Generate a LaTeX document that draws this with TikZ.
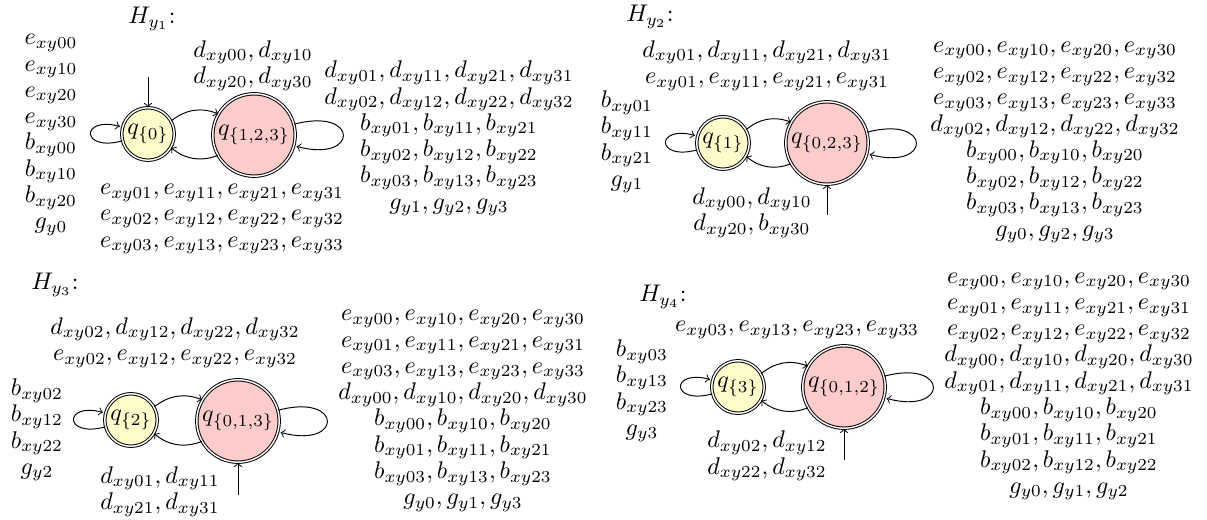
\documentclass[tikz,border=0pt]{standalone}
\usetikzlibrary{automata}
\begin{document}
\begin{tikzpicture}[x=0.415pt,y=-0.415pt,
  every node/.style={font=\fontsize{10}{10.9}\selectfont},
  lbl/.style={align=center,inner sep=0pt},
  ttl/.style={inner sep=0pt},
  state/.style={circle,draw,double,inner sep=0pt},
  smallst/.style={state,fill=yellow!20,minimum size=21.8pt},
  bigst/.style={state,fill=red!20,minimum size=34.2pt}]
\useasboundingbox (0,0) rectangle (1207,520);

% ---------- H_{y1} ----------
\node[ttl] (t1) at (152,19) {$H_{y_1}$:};
\node[smallst] (s1) at (148,134) {$q_{\{0\}}$};
\node[bigst] (b1) at (254,135) {$q_{\{1,2,3\}}$};
\coordinate (i1) at (148,77);
\draw[->] (i1) -- (s1);
\path[->] (s1) edge[loop left] (s1)
          (b1) edge[loop right] (b1)
          (s1) edge[bend left] (b1)
          (b1) edge[bend left] (s1);
\node[lbl] (l1) at (51,135) {$e_{xy00}$\\$e_{xy10}$\\$e_{xy20}$\\$e_{xy30}$\\$b_{xy00}$\\$b_{xy10}$\\$b_{xy20}$\\$g_{y0}$};
\node[lbl] (u1) at (253,65.5) {$d_{xy00},d_{xy10}$\\$d_{xy20},d_{xy30}$};
\node[lbl] (d1) at (222,219) {$e_{xy01},e_{xy11},e_{xy21},e_{xy31}$\\$e_{xy02},e_{xy12},e_{xy22},e_{xy32}$\\$e_{xy03},e_{xy13},e_{xy23},e_{xy33}$};
\node[lbl] (r1) at (449,138.5) {$d_{xy01},d_{xy11},d_{xy21},d_{xy31}$\\$d_{xy02},d_{xy12},d_{xy22},d_{xy32}$\\$b_{xy01},b_{xy11},b_{xy21}$\\$b_{xy02},b_{xy12},b_{xy22}$\\$b_{xy03},b_{xy13},b_{xy23}$\\$g_{y1},g_{y2},g_{y3}$};

% ---------- H_{y2} ----------
\node[ttl] (t2) at (650,17) {$H_{y_2}$:};
\node[smallst] (s2) at (723,143) {$q_{\{1\}}$};
\node[bigst] (b2) at (827,143) {$q_{\{0,2,3\}}$};
\coordinate (i2) at (827,215);
\draw[->] (i2) -- (b2);
\path[->] (s2) edge[loop left] (s2)
          (b2) edge[loop right] (b2)
          (s2) edge[bend left] (b2)
          (b2) edge[bend left] (s2);
\node[lbl] (l2) at (627,142) {$b_{xy01}$\\$b_{xy11}$\\$b_{xy21}$\\$g_{y1}$};
\node[lbl] (u2) at (767,65.5) {$d_{xy01},d_{xy11},d_{xy21},d_{xy31}$\\$e_{xy01},e_{xy11},e_{xy21},e_{xy31}$};
\node[lbl] (d2) at (752,212.5) {$d_{xy00},d_{xy10}$\\$d_{xy20},b_{xy30}$};
\node[lbl] (r2) at (1055,142.5) {$e_{xy00},e_{xy10},e_{xy20},e_{xy30}$\\$e_{xy02},e_{xy12},e_{xy22},e_{xy32}$\\$e_{xy03},e_{xy13},e_{xy23},e_{xy33}$\\$d_{xy02},d_{xy12},d_{xy22},d_{xy32}$\\$b_{xy00},b_{xy10},b_{xy20}$\\$b_{xy02},b_{xy12},b_{xy22}$\\$b_{xy03},b_{xy13},b_{xy23}$\\$g_{y0},g_{y2},g_{y3}$};

% ---------- H_{y3} ----------
\node[ttl] (t3) at (55,285) {$H_{y_3}$:};
\node[smallst] (s3) at (131,420) {$q_{\{2\}}$};
\node[bigst] (b3) at (238,421) {$q_{\{0,1,3\}}$};
\coordinate (i3) at (238,495);
\draw[->] (i3) -- (b3);
\path[->] (s3) edge[loop left] (s3)
          (b3) edge[loop right] (b3)
          (s3) edge[bend left] (b3)
          (b3) edge[bend left] (s3);
\node[lbl] (l3) at (37,430) {$b_{xy02}$\\$b_{xy12}$\\$b_{xy22}$\\$g_{y2}$};
\node[lbl] (u3) at (175,342.5) {$d_{xy02},d_{xy12},d_{xy22},d_{xy32}$\\$e_{xy02},e_{xy12},e_{xy22},e_{xy32}$};
\node[lbl] (d3) at (160,491.5) {$d_{xy01},d_{xy11}$\\$d_{xy21},d_{xy31}$};
\node[lbl] (r3) at (463,411) {$e_{xy00},e_{xy10},e_{xy20},e_{xy30}$\\$e_{xy01},e_{xy11},e_{xy21},e_{xy31}$\\$e_{xy03},e_{xy13},e_{xy23},e_{xy33}$\\$d_{xy00},d_{xy10},d_{xy20},d_{xy30}$\\$b_{xy00},b_{xy10},b_{xy20}$\\$b_{xy01},b_{xy11},b_{xy21}$\\$b_{xy03},b_{xy13},b_{xy23}$\\$g_{y0},g_{y1},g_{y3}$};

% ---------- H_{y4} ----------
\node[ttl] (t4) at (663,297) {$H_{y_4}$:};
\node[smallst] (s4) at (738,387) {$q_{\{3\}}$};
\node[bigst] (b4) at (844,387) {$q_{\{0,1,2\}}$};
\coordinate (i4) at (844,460);
\draw[->] (i4) -- (b4);
\path[->] (s4) edge[loop left] (s4)
          (b4) edge[loop right] (b4)
          (s4) edge[bend left] (b4)
          (b4) edge[bend left] (s4);
\node[lbl] (l4) at (642,391) {$b_{xy03}$\\$b_{xy13}$\\$b_{xy23}$\\$g_{y3}$};
\node[lbl] (u4) at (797,330) {$e_{xy03},e_{xy13},e_{xy23},e_{xy33}$};
\node[lbl] (d4) at (767,456) {$d_{xy02},d_{xy12}$\\$d_{xy22},d_{xy32}$};
\node[lbl] (r4) at (1069,386.5) {$e_{xy00},e_{xy10},e_{xy20},e_{xy30}$\\$e_{xy01},e_{xy11},e_{xy21},e_{xy31}$\\$e_{xy02},e_{xy12},e_{xy22},e_{xy32}$\\$d_{xy00},d_{xy10},d_{xy20},d_{xy30}$\\$d_{xy01},d_{xy11},d_{xy21},d_{xy31}$\\$b_{xy00},b_{xy10},b_{xy20}$\\$b_{xy01},b_{xy11},b_{xy21}$\\$b_{xy02},b_{xy12},b_{xy22}$\\$g_{y0},g_{y1},g_{y2}$};
\end{tikzpicture}
\end{document}
